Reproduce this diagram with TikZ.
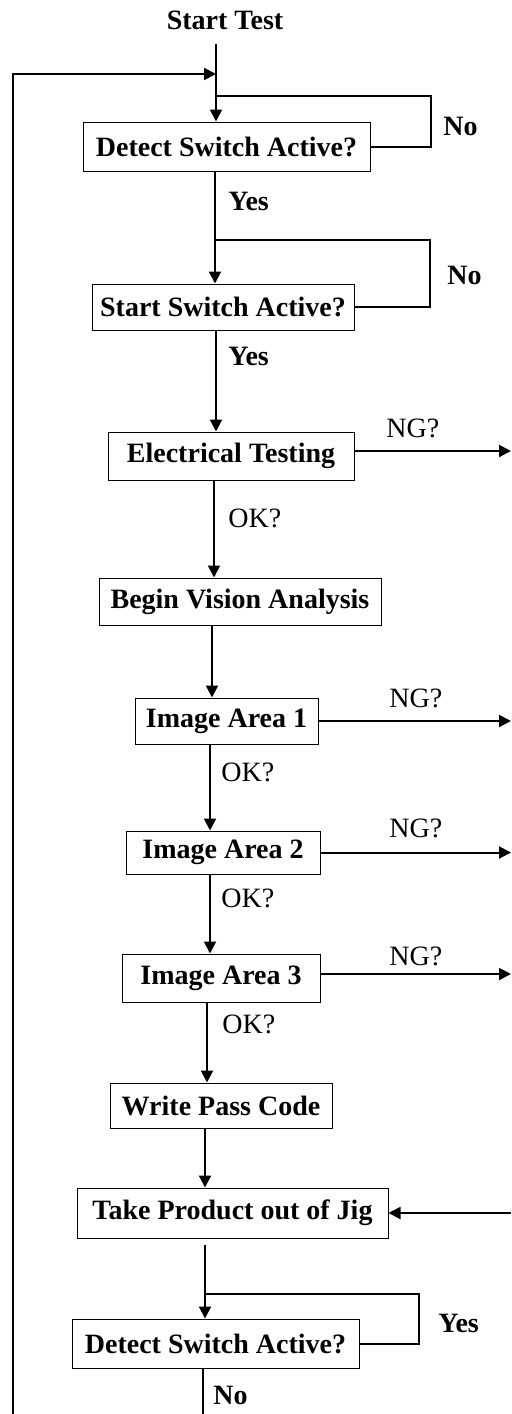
\documentclass[tikz,border=0pt]{standalone}
\usepackage{fontspec}
\setmainfont{Liberation Serif}
\usetikzlibrary{arrows.meta}

\tikzset{
  box/.style={draw, line width=0.5pt, inner sep=0pt, font=\fontsize{14}{16}\selectfont\bfseries},
  flow/.style={-{Triangle[length=6pt,width=6pt]}, line width=1pt},
  wire/.style={line width=1pt},
  lbl/.style={anchor=base west, inner sep=0pt, font=\fontsize{14}{16}\selectfont},
}

\begin{document}
\begin{tikzpicture}[x=0.5pt, y=-0.5pt]
  \useasboundingbox (0,0) rectangle (512,1414);

% boxes, pixel positions of the flow chart
    \node [box, minimum width=143.5pt, minimum height=24.5pt] (detect) at (226.5,146.5) {Detect Switch Active?};
    \node [box, minimum width=131pt, minimum height=23pt] (start) at (223,307) {Start Switch Active?};
    \node [box, minimum width=123pt, minimum height=24pt] (elec) at (231,456) {Electrical Testing\hspace{7pt}};
    \node [box, minimum width=141pt, minimum height=23.5pt] (vision) at (240,601.5) {Begin Vision Analysis};
    \node [box, minimum width=91.5pt, minimum height=23pt] (area1) at (226.5,721) {Image Area 1};
    \node [box, minimum width=97pt, minimum height=21.5pt] (area2) at (223,852.5) {Image Area 2};
    \node [box, minimum width=99pt, minimum height=24pt] (area3) at (221,978) {Image Area 3};
    \node [box, minimum width=111pt, minimum height=22.5pt] (pass) at (221,1105.5) {Write Pass Code};
    \node [box, minimum width=155.5pt, minimum height=25pt] (take) at (232.5,1213) {Take Product out of Jig};
    \node [box, minimum width=143.5pt, minimum height=24.5pt] (detectb) at (215.5,1343.5) {Detect Switch Active?};

% texts
    \node [lbl, anchor=base, font=\fontsize{14}{16}\selectfont\bfseries] (title) at (225,29) {Start Test};
    \node [lbl, font=\fontsize{14}{16}\selectfont\bfseries] (noa) at (443,135) {No};
    \node [lbl, font=\fontsize{14}{16}\selectfont\bfseries] (yesa) at (228,210) {Yes};
    \node [lbl, font=\fontsize{14}{16}\selectfont\bfseries] (nob) at (447,284) {No};
    \node [lbl, font=\fontsize{14}{16}\selectfont\bfseries] (yesb) at (228,365) {Yes};
    \node [lbl] (nga) at (386,437) {NG?};
    \node [lbl] (oka) at (228,527) {OK?};
    \node [lbl] (ngb) at (389,707) {NG?};
    \node [lbl] (okb) at (221,781) {OK?};
    \node [lbl] (ngc) at (389,837) {NG?};
    \node [lbl] (okc) at (221,907) {OK?};
    \node [lbl] (ngd) at (389,965) {NG?};
    \node [lbl] (okd) at (222,1033) {OK?};
    \node [lbl, font=\fontsize{14}{16}\selectfont\bfseries] (yesc) at (438,1332) {Yes};
    \node [lbl, font=\fontsize{14}{16}\selectfont\bfseries] (noc) at (213,1404) {No};

% free ends and joints
    \coordinate (go) at (216,44);
    \coordinate (back) at (13,1414);
    \coordinate (joina) at (216,74);
    \coordinate (joinb) at (216,96);
    \coordinate (joinc) at (215,240);
    \coordinate (joind) at (205,1294);
    \coordinate (ra) at (431,0);
    \coordinate (rb) at (430,0);
    \coordinate (rc) at (419,0);
    \coordinate (edge) at (511,0);
    \coordinate (out) at (203,1414);

  \draw [flow] (go) -- (go |- detect.north);
  \draw [flow] (back) |- (joina);
  \draw [wire] (detect.east) -| (ra |- joinb) -- (joinb);
  \draw [flow] (detect.south -| joinc) -- (start.north -| joinc);
  \draw [wire] (start.east) -| (rb |- joinc) -- (joinc);
  \draw [flow] (start.south -| joina) -- (elec.north -| joina);
  \draw [flow] ([yshift=2.5pt]elec.east) -- ([yshift=2.5pt]elec.east -| edge);
  \draw [flow] (elec.south -| 214,0) -- (vision.north -| 214,0);
  \draw [flow] (vision.south -| 212,0) -- (area1.north -| 212,0);
  \draw [flow] (area1.east) -- (area1.east -| edge);
  \draw [flow] (area1.south -| 210,0) -- (area2.north -| 210,0);
  \draw [flow] (area2.east) -- (area2.east -| edge);
  \draw [flow] (area2.south -| 210,0) -- (area3.north -| 210,0);
  \draw [flow] ([yshift=2pt]area3.east) -- ([yshift=2pt]area3.east -| edge);
  \draw [flow] (area3.south -| 207,0) -- (pass.north -| 207,0);
  \draw [flow] (pass.south -| joind) -- (take.north -| joind);
  \draw [flow] (take.east -| edge) -- (take.east);
  \draw [flow] ([yshift=-3pt]take.south -| joind) -- (detectb.north -| joind);
  \draw [wire] (detectb.east) -| (rc |- joind) -- (joind);
  \draw [wire] (detectb.south -| out) -- (out);

\end{tikzpicture}
\end{document}
